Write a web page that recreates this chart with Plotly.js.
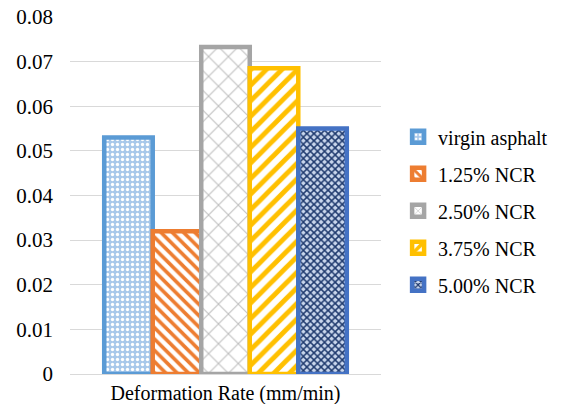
<!DOCTYPE html>
<html>
<head>
<meta charset="utf-8">
<script src="https://cdn.plot.ly/plotly-3.0.1.min.js"></script>
<style>html,body{margin:0;padding:0;background:#fff;}#chart{width:565px;height:404px;}</style>
</head>
<body>
<div id="chart"></div>
<script>
const categories = ["Deformation Rate (mm/min)"];
const seriesNames = ["virgin asphalt", "1.25% NCR", "2.50% NCR", "3.75% NCR", "5.00% NCR"];
const virginAsphalt = [0.053];
const ncr125 = [0.032];
const ncr250 = [0.0733];
const ncr375 = [0.0685];
const ncr500 = [0.055];
const seriesValues = [virginAsphalt, ncr125, ncr250, ncr375, ncr500];
const yTicks = [0, 0.01, 0.02, 0.03, 0.04, 0.05, 0.06, 0.07, 0.08];
const yTickText = ["0", "0.01", "0.02", "0.03", "0.04", "0.05", "0.06", "0.07", "0.08"];

const SERIF = "Liberation Serif";
const lineColors = ["#5b9bd5", "#ed7d31", "#a5a5a5", "#ffc000", "#4472c4"];
const patterns = [
  {shape: ".", fgcolor: "#ffffff", bgcolor: "#a8c8ea", size: 5, solidity: 0.35},
  {shape: "\\", fgcolor: "#ed7d31", bgcolor: "#ffffff", size: 8, solidity: 0.45},
  {shape: "x", fgcolor: "#bdbdbd", bgcolor: "#ffffff", size: 14, solidity: 0.14},
  {shape: "/", fgcolor: "#ffc000", bgcolor: "#ffffff", size: 11, solidity: 0.45},
  {shape: "x", fgcolor: "#1f3a6e", bgcolor: "#c9d6ec", size: 5, solidity: 0.5}
];

const traces = seriesNames.map((name, i) => ({
  type: "bar",
  name: name,
  x: categories,
  y: seriesValues[i],
  legendgroup: "g" + i,
  marker: {
    color: patterns[i].bgcolor,
    pattern: {shape: patterns[i].shape, fgcolor: patterns[i].fgcolor, bgcolor: patterns[i].bgcolor, size: patterns[i].size, solidity: patterns[i].solidity, fillmode: "replace"},
    line: {color: lineColors[i], width: 4.5}
  }
}));

const layout = {
  width: 565,
  height: 404,
  margin: {l: 70, r: 180, t: 17, b: 30},
  paper_bgcolor: "#ffffff",
  plot_bgcolor: "#ffffff",
  barmode: "group",
  bargap: 0.22,
  bargroupgap: 0,
  showlegend: true,
  font: {family: SERIF, color: "#000000"},
  xaxis: {
    type: "category",
    showgrid: false,
    showline: true,
    linecolor: "#d9d9d9",
    linewidth: 1,
    ticks: "",
    ticklabelstandoff: 1,
    tickfont: {size: 20, family: SERIF, color: "#000"}
  },
  yaxis: {
    range: [0, 0.08],
    tickvals: yTicks,
    ticktext: yTickText,
    showgrid: true,
    gridcolor: "#d9d9d9",
    gridwidth: 1,
    zeroline: false,
    showline: false,
    ticks: "",
    ticklabelstandoff: 16,
    tickfont: {size: 21, family: SERIF, color: "#000"}
  },
  legend: {
    x: 1.055,
    xanchor: "left",
    y: 0.457,
    yanchor: "middle",
    traceorder: "grouped",
    tracegroupgap: 8,
    itemwidth: 30,
    font: {size: 20, family: SERIF, color: "#000"},
    bgcolor: "rgba(0,0,0,0)"
  }
};

Plotly.newPlot("chart", traces, layout, {displayModeBar: false, staticPlot: true});
</script>
</body>
</html>
